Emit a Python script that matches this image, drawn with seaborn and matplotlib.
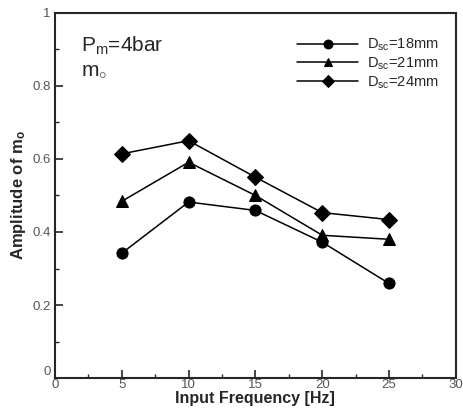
import numpy as np
import pandas as pd
import matplotlib
matplotlib.use('Agg')
import matplotlib.pyplot as plt
import seaborn as sns
from matplotlib.ticker import MultipleLocator

# data
freq = [5, 10, 15, 20, 25]
amp_18 = [0.342, 0.482, 0.459, 0.372, 0.259]
amp_21 = [0.484, 0.591, 0.500, 0.391, 0.380]
amp_24 = [0.614, 0.650, 0.550, 0.453, 0.434]
labels = [r'D$_{sc}$=18mm', r'D$_{sc}$=21mm', r'D$_{sc}$=24mm']

df = pd.concat([
    pd.DataFrame({'freq': freq, 'amp': a, 'case': lab})
    for a, lab in zip([amp_18, amp_21, amp_24], labels)
])

sns.set_style('ticks')
plt.rcParams['font.family'] = ['Liberation Sans', 'DejaVu Sans']
plt.rcParams['mathtext.fontset'] = 'custom'
plt.rcParams['mathtext.rm'] = 'Liberation Sans'
plt.rcParams['mathtext.it'] = 'Liberation Sans'
plt.rcParams['mathtext.bf'] = 'Liberation Sans:bold'

fig = plt.figure(figsize=(4.64, 4.15), dpi=100)
ax = fig.add_axes([0.1185, 0.089, 0.864, 0.880])

sns.lineplot(data=df, x='freq', y='amp', hue='case', style='case',
             palette=['black'] * 3, markers=['o', '^', 'D'], dashes=False,
             markersize=8, markeredgecolor='black', linewidth=1.1, ax=ax)

ax.set_xlim(0, 30)
ax.set_ylim(0, 1)
ax.set_xticks([0, 5, 10, 15, 20, 25, 30])
ax.set_xticklabels(['0', '5', '10', '15', '20', '25', '30'])
ax.set_yticks([0, 0.2, 0.4, 0.6, 0.8, 1])
ax.set_yticklabels(['0', '0.2', '0.4', '0.6', '0.8', '1'])
ax.xaxis.set_minor_locator(MultipleLocator(2.5))
ax.yaxis.set_minor_locator(MultipleLocator(0.1))
ax.tick_params(which='major', direction='in', length=6, width=1.2,
               labelsize=9.5, labelcolor='#555555')
ax.tick_params(axis='x', which='major', pad=1)
ax.tick_params(axis='y', which='major', pad=3)
ax.tick_params(which='minor', direction='in', length=3, width=1)
ax.get_yticklabels()[0].set_verticalalignment('bottom')
for s in ax.spines.values():
    s.set_linewidth(1.5)

ax.set_xlabel('Input Frequency [Hz]', fontsize=11.5, fontweight='bold', labelpad=0)
ax.set_ylabel(r'Amplitude of m$_{\mathbf{o}}$', fontsize=12, fontweight='bold', labelpad=3)

ax.text(0.065, 0.91, r'P$_{\mathrm{m}}$=4bar', transform=ax.transAxes,
        fontsize=15, va='center')
ax.text(0.065, 0.845, r'm$_{\circ}$', transform=ax.transAxes,
        fontsize=15, va='center')

ax.legend(frameon=False, loc='upper right', bbox_to_anchor=(0.99, 0.97),
          fontsize=10.5, handlelength=4.2, handletextpad=0.6, labelspacing=0.15,
          markerscale=0.8)

fig.savefig('out.png', dpi=100)
